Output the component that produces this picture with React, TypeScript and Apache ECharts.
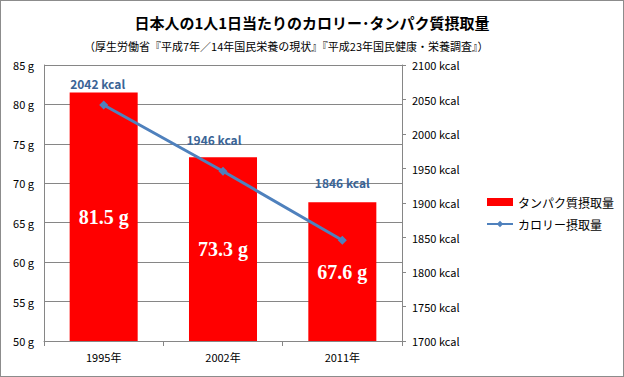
import React, { useEffect, useRef } from "react";
import * as echarts from "echarts";

const categories = ["1995年", "2002年", "2011年"];
const proteinValues = [81.5, 73.3, 67.6];
const calorieValues = [2042, 1946, 1846];
const titleText = "日本人の1人1日当たりのカロリー･タンパク質摂取量";
const subtitleText = "（厚生労働省『平成7年／14年国民栄養の現状』『平成23年国民健康・栄養調査』）";
const proteinName = "タンパク質摂取量";
const calorieName = "カロリー摂取量";

const FONT = "'Noto Sans CJK JP', 'DejaVu Sans', sans-serif";
const labelOffsets = [[-6, -1], [-9, -11], [0, -37]];

export default function App() {
  const ref = useRef<HTMLDivElement>(null);
  useEffect(() => {
    if (!ref.current) return;
    const chart = echarts.init(ref.current, null, { renderer: "svg" });
    chart.setOption({
      animation: false,
      backgroundColor: "#fff",
      textStyle: { fontFamily: FONT },
      title: [
        {
          text: titleText,
          left: "center",
          top: 9,
          textStyle: { fontSize: 15, fontWeight: "bold", color: "#000", fontFamily: FONT },
        },
        {
          text: subtitleText,
          left: 78,
          top: 34,
          textStyle: { fontSize: 11, fontWeight: "normal", color: "#000", fontFamily: FONT },
        },
      ],
      legend: {
        orient: "vertical",
        left: 480,
        top: 190,
        itemGap: 10,
        itemWidth: 26,
        itemHeight: 8,
        textStyle: { fontSize: 12, color: "#000", fontFamily: FONT },
        data: [
          { name: proteinName, icon: "rect" },
          { name: calorieName },
        ],
      },
      grid: { left: 43, right: 221, top: 64, bottom: 35, containLabel: false },
      xAxis: {
        type: "category",
        data: categories,
        axisLine: { lineStyle: { color: "#868686" } },
        axisTick: { show: true, alignWithLabel: false, lineStyle: { color: "#868686" } },
        axisLabel: { fontSize: 11, color: "#000", margin: 10, fontFamily: FONT },
      },
      yAxis: [
        {
          type: "value",
          min: 50,
          max: 85,
          interval: 5,
          axisLine: { show: true, lineStyle: { color: "#868686" } },
          axisTick: { show: false },
          splitLine: { lineStyle: { color: "#868686" } },
          axisLabel: { formatter: (v: number) => `${v} g`, fontSize: 11, color: "#000", margin: 10, fontFamily: FONT },
        },
        {
          type: "value",
          min: 1700,
          max: 2100,
          interval: 50,
          position: "right",
          axisLine: { show: true, lineStyle: { color: "#868686" } },
          axisTick: { show: true, length: 4, lineStyle: { color: "#868686" } },
          splitLine: { show: false },
          axisLabel: { formatter: (v: number) => `${v} kcal`, fontSize: 11, color: "#000", margin: 10, fontFamily: FONT },
        },
      ],
      series: [
        {
          name: proteinName,
          type: "bar",
          data: proteinValues,
          barWidth: "57%",
          itemStyle: { color: "#FF0000" },
          label: {
            show: true,
            position: "inside",
            formatter: (p: any) => `${p.value} g`,
            color: "#fff",
            fontSize: 20,
            fontWeight: "bold",
            fontFamily: "'Liberation Serif', 'DejaVu Serif', serif",
          },
        },
        {
          name: calorieName,
          type: "line",
          yAxisIndex: 1,
          data: calorieValues.map((v, i) => ({
            value: v,
            label: { offset: labelOffsets[i] },
          })),
          symbol: "diamond",
          symbolSize: 9,
          lineStyle: { color: "#4F81BD", width: 3 },
          itemStyle: { color: "#4F81BD" },
          label: {
            show: true,
            position: "top",
            distance: 10,
            formatter: (p: any) => `${p.value} kcal`,
            color: "#3A6496",
            fontSize: 12,
            fontWeight: "bold",
            fontFamily: FONT,
          },
        },
      ],
    });
    return () => chart.dispose();
  }, []);
  return (
    <div
      style={{
        position: "fixed",
        left: 0,
        top: 0,
        width: 624,
        height: 377,
        boxSizing: "border-box",
        border: "1px solid #8c8c8c",
        background: "#fff",
      }}
    >
      <div ref={ref} style={{ width: 622, height: 375 }} />
    </div>
  );
}
